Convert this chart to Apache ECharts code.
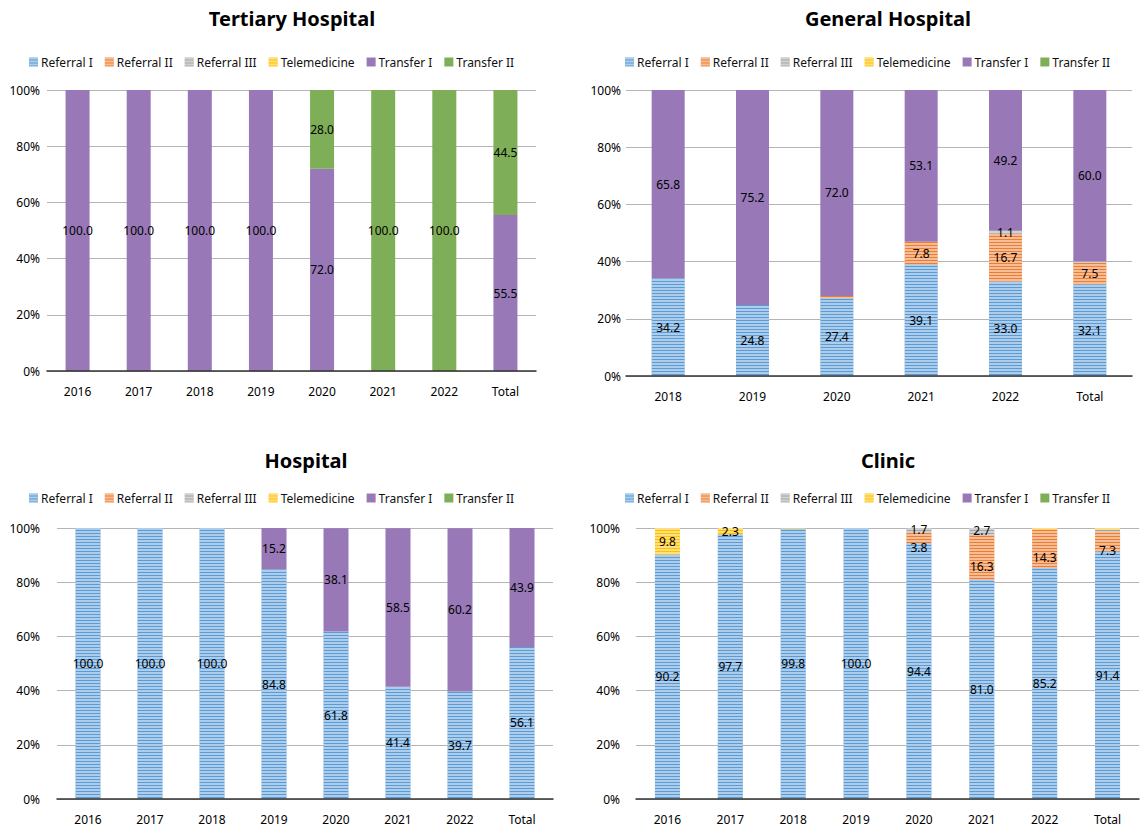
<!DOCTYPE html>
<html>
<head>
<meta charset="utf-8">
<script src="https://cdn.jsdelivr.net/npm/echarts@6/dist/echarts.min.js"></script>
<style>
html,body{margin:0;padding:0;background:#fff;}
#main{width:1143px;height:829px;}
</style>
</head>
<body>
<div id="main"></div>
<script>
// ---- data ----
const seriesNames = ['Referral I', 'Referral II', 'Referral III', 'Telemedicine', 'Transfer I', 'Transfer II'];
const yTicks = [0, 20, 40, 60, 80, 100];

const chartTitles = ['Tertiary Hospital', 'General Hospital', 'Hospital', 'Clinic'];

const tertiaryCats = ['2016', '2017', '2018', '2019', '2020', '2021', '2022', 'Total'];
const tertiaryReferralI   = [0, 0, 0, 0, 0, 0, 0, 0];
const tertiaryReferralII  = [0, 0, 0, 0, 0, 0, 0, 0];
const tertiaryReferralIII = [0, 0, 0, 0, 0, 0, 0, 0];
const tertiaryTelemed     = [0, 0, 0, 0, 0, 0, 0, 0];
const tertiaryTransferI   = [100, 100, 100, 100, 72.0, 0, 0, 55.5];
const tertiaryTransferII  = [0, 0, 0, 0, 28.0, 100, 100, 44.5];

const generalCats = ['2018', '2019', '2020', '2021', '2022', 'Total'];
const generalReferralI   = [34.2, 24.8, 27.4, 39.1, 33.0, 32.1];
const generalReferralII  = [0, 0, 0.6, 7.8, 16.7, 7.5];
const generalReferralIII = [0, 0, 0, 0, 1.1, 0.4];
const generalTelemed     = [0, 0, 0, 0, 0, 0];
const generalTransferI   = [65.8, 75.2, 72.0, 53.1, 49.2, 60.0];
const generalTransferII  = [0, 0, 0, 0, 0, 0];

const hospitalCats = ['2016', '2017', '2018', '2019', '2020', '2021', '2022', 'Total'];
const hospitalReferralI   = [100.0, 100.0, 100.0, 84.8, 61.8, 41.4, 39.7, 56.1];
const hospitalReferralII  = [0, 0, 0, 0, 0, 0, 0, 0];
const hospitalReferralIII = [0, 0, 0, 0, 0, 0, 0, 0];
const hospitalTelemed     = [0, 0, 0, 0, 0, 0, 0, 0];
const hospitalTransferI   = [0, 0, 0, 15.2, 38.1, 58.5, 60.2, 43.9];
const hospitalTransferII  = [0, 0, 0, 0, 0, 0, 0, 0];

const clinicCats = ['2016', '2017', '2018', '2019', '2020', '2021', '2022', 'Total'];
const clinicReferralI   = [90.2, 97.7, 99.8, 100.0, 94.4, 81.0, 85.2, 91.4];
const clinicReferralII  = [0, 0, 0, 0, 3.8, 16.3, 14.3, 7.3];
const clinicReferralIII = [0, 0, 0, 0, 1.7, 2.7, 0, 0.7];
const clinicTelemed     = [9.8, 2.3, 0.2, 0, 0, 0, 0.5, 0.6];
const clinicTransferI   = [0, 0, 0, 0, 0, 0, 0, 0];
const clinicTransferII  = [0, 0, 0, 0, 0, 0, 0, 0];

// ---- styling / layout ----
const FONT = 'Noto Sans';
const baseColors = ['#5B9BD5', '#ED7D31', '#A5A5A5', '#FFC000', '#9878B6', '#7EAE57'];
const striped = [true, true, true, true, false, false];

const panels = [
  { cats: tertiaryCats, data: [tertiaryReferralI, tertiaryReferralII, tertiaryReferralIII, tertiaryTelemed, tertiaryTransferI, tertiaryTransferII],
    grid: { left: 47, top: 90, width: 489, height: 281 }, titleX: 287, titleY: 3, legendX: 24, legendY: 51, barW: 24, yMargin: 7, labelDy: [0, 0, 0, 0, 0, 0] },
  { cats: generalCats, data: [generalReferralI, generalReferralII, generalReferralIII, generalTelemed, generalTransferI, generalTransferII],
    grid: { left: 626, top: 90, width: 506, height: 286 }, titleX: 883, titleY: 3, legendX: 620, legendY: 51, barW: 33, yMargin: 5, labelDy: [0, 0, 0, 0, 0, 0] },
  { cats: hospitalCats, data: [hospitalReferralI, hospitalReferralII, hospitalReferralIII, hospitalTelemed, hospitalTransferI, hospitalTransferII],
    grid: { left: 57, top: 528, width: 496, height: 271 }, titleX: 301, titleY: 445, legendX: 24, legendY: 487, barW: 25, yMargin: 17, labelDy: [0, 0, 0, 0, 0, 0] },
  { cats: clinicCats, data: [clinicReferralI, clinicReferralII, clinicReferralIII, clinicTelemed, clinicTransferI, clinicTransferII],
    grid: { left: 636, top: 528, width: 503, height: 271 }, titleX: 883, titleY: 445, legendX: 620, legendY: 487, barW: 25, yMargin: 16, labelDy: [0, 9, -1, 0, 0, 0] }
];

function itemStyleFor(i) {
  const st = { color: baseColors[i] };
  if (striped[i]) {
    st.decal = {
      symbol: 'rect',
      symbolSize: 1,
      color: 'rgba(255,255,255,0.5)',
      dashArrayX: [1, 0],
      dashArrayY: [2, 1],
      rotation: 0
    };
  }
  return st;
}

const option = {
  animation: false,
  textStyle: { fontFamily: FONT },
  title: [],
  legend: [],
  grid: [],
  xAxis: [],
  yAxis: [],
  series: []
};

panels.forEach((p, k) => {
  option.title.push({
    text: chartTitles[k],
    left: p.titleX,
    top: p.titleY,
    textAlign: 'center',
    textStyle: { fontFamily: FONT, fontSize: 20, fontWeight: 'bold', color: '#000' }
  });
  option.legend.push({
    data: seriesNames,
    left: p.legendX,
    top: p.legendY,
    icon: 'rect',
    itemWidth: 9,
    itemHeight: 9,
    itemGap: 12,
    textStyle: { fontFamily: FONT, fontSize: 12, color: '#111', padding: [0, 0, 0, -2] },
    selectedMode: false
  });
  option.grid.push(Object.assign({ containLabel: false }, p.grid));
  option.xAxis.push({
    type: 'category',
    gridIndex: k,
    data: p.cats,
    axisTick: { show: false },
    axisLine: { show: true, lineStyle: { color: '#333', width: 1.5 } },
    axisLabel: { fontFamily: FONT, fontSize: 12, color: '#000', margin: 14 },
    z: 5
  });
  option.yAxis.push({
    type: 'value',
    gridIndex: k,
    min: 0,
    max: 100,
    interval: 20,
    axisLine: { show: false },
    axisTick: { show: false },
    splitLine: { show: true, lineStyle: { color: '#B4B4B4', width: 1 } },
    axisLabel: { fontFamily: FONT, fontSize: 12, color: '#000', margin: p.yMargin, formatter: '{value}%' }
  });
  seriesNames.forEach((name, i) => {
    option.series.push({
      name: name,
      type: 'bar',
      xAxisIndex: k,
      yAxisIndex: k,
      stack: 'panel' + k,
      barWidth: p.barW,
      data: p.data[i],
      itemStyle: itemStyleFor(i),
      label: {
        show: true,
        position: 'inside',
        offset: [0, p.labelDy[i]],
        fontFamily: FONT,
        fontSize: 12,
        lineHeight: 13,
        color: '#000',
        formatter: (prm) => (prm.value >= 1 ? Number(prm.value).toFixed(1) : '')
      },
      emphasis: { disabled: true }
    });
  });
});

const chart = echarts.init(document.getElementById('main'), null, { renderer: 'svg' });
chart.setOption(option);
</script>
</body>
</html>
